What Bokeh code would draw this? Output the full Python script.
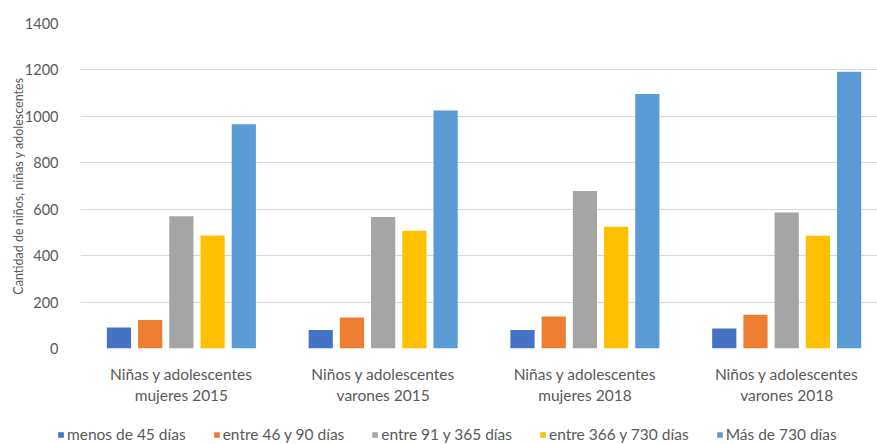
from bokeh.plotting import figure
from bokeh.models import Range1d, FixedTicker, Legend, LegendItem, ColumnDataSource
from bokeh.layouts import column
from bokeh.embed import file_html
from bokeh.resources import INLINE

categories = ["Niñas y adolescentes\nmujeres 2015", "Niños y adolescentes\nvarones 2015",
              "Niñas y adolescentes\nmujeres 2018", "Niños y adolescentes\nvarones 2018"]
series = ["menos de 45 días", "entre 46 y 90 días", "entre 91 y 365 días",
          "entre 366 y 730 días", "Más de 730 días"]
values = {
    "menos de 45 días": [90, 80, 80, 86],
    "entre 46 y 90 días": [123, 134, 138, 145],
    "entre 91 y 365 días": [570, 566, 679, 586],
    "entre 366 y 730 días": [487, 507, 524, 486],
    "Más de 730 días": [966, 1025, 1096, 1192],
}
colors = ["#4472C4", "#ED7D31", "#A5A5A5", "#FFC000", "#5B9BD5"]
y_ticks = [0, 200, 400, 600, 800, 1000, 1200, 1400]

FONT = "Lato"
TXT = "#595959"

p = figure(width=877, height=412, output_backend="svg", toolbar_location=None,
           x_range=Range1d(0, 3.95), y_range=Range1d(0, 1400),
           min_border_left=80, min_border_right=0, min_border_top=23, min_border_bottom=64)
p.outline_line_color = None
p.background_fill_color = "white"

centers = [i + 0.5 for i in range(len(categories))]
step = 0.1547
bw = 0.12
for j, s in enumerate(series):
    src = ColumnDataSource(dict(x=[c + (j - 2) * step for c in centers], top=values[s]))
    p.vbar(x="x", top="top", width=bw, source=src, fill_color=colors[j], line_color=None)

p.xaxis.ticker = FixedTicker(ticks=centers)
p.xaxis.major_label_overrides = {c: lab for c, lab in zip(centers, categories)}
p.xaxis.major_label_text_font = FONT
p.xaxis.major_label_text_font_size = "15.5px"
p.xaxis.major_label_text_color = TXT
p.xaxis.major_label_text_line_height = 1.2
p.xaxis.major_label_standoff = 10
p.xaxis.axis_line_color = None
p.xaxis.major_tick_line_color = None
p.xaxis.minor_tick_line_color = None

p.yaxis.ticker = FixedTicker(ticks=y_ticks)
p.yaxis.major_label_text_font = FONT
p.yaxis.major_label_text_font_size = "14.5px"
p.yaxis.major_label_text_color = TXT
p.yaxis.major_label_standoff = 16
p.yaxis.axis_line_color = None
p.yaxis.major_tick_line_color = None
p.yaxis.minor_tick_line_color = None
p.yaxis.axis_label = "Cantidad de niños, niñas y adolescentes"
p.yaxis.axis_label_text_font = FONT
p.yaxis.axis_label_text_font_size = "12.5px"
p.yaxis.axis_label_text_font_style = "normal"
p.yaxis.axis_label_text_color = TXT
p.yaxis.axis_label_standoff = -4

p.xgrid.grid_line_color = None
p.ygrid.grid_line_color = "#D9D9D9"
p.ygrid.grid_line_width = 1

# legend strip below the chart
lg = figure(width=877, height=32, output_backend="svg", toolbar_location=None,
            x_range=Range1d(0, 1), y_range=Range1d(0, 1),
            x_axis_type=None, y_axis_type=None,
            min_border_left=0, min_border_right=0, min_border_top=0, min_border_bottom=0)
lg.outline_line_color = None
lg.xgrid.visible = False
lg.ygrid.visible = False

legend_x = 57
if "frame_align" in lg.properties():
    lg.frame_align = False
    p.frame_align = False
else:
    legend_x = 57 - 80

items = []
for j, s in enumerate(series):
    # zero-height proxy glyph: only its colour is used, for the legend swatch
    r = lg.vbar(x=[0.5], top=[0], width=0.0, fill_color=colors[j], line_color=None)
    items.append(LegendItem(label=s, renderers=[r]))
legend = Legend(items=items, orientation="horizontal", location=(legend_x, 1),
                glyph_width=7, glyph_height=7, label_standoff=3, spacing=27,
                padding=0, margin=0, border_line_color=None, background_fill_alpha=0,
                label_text_font=FONT, label_text_font_size="15.5px", label_text_color=TXT,
                label_height=16)
lg.add_layout(legend, "center")

open("out.html", "w").write(file_html(column(p, lg), INLINE))
